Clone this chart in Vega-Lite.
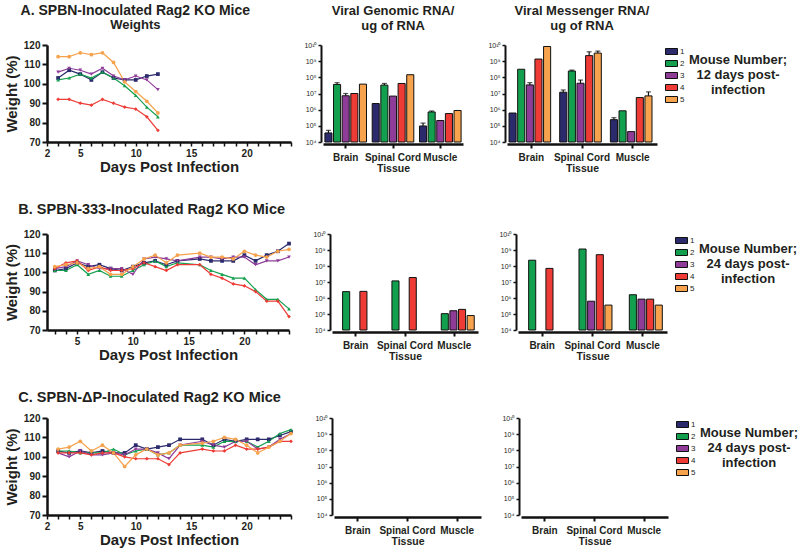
{
  "$schema": "https://vega.github.io/schema/vega-lite/v6.json",
  "padding": {"left": 4, "top": 4, "right": 2, "bottom": 2},
  "background": "white",
  "config": {
    "font": "Liberation Sans",
    "view": {"stroke": null},
    "axis": {"grid": false, "labelFont": "Liberation Sans", "titleFont": "Liberation Sans", "labelFontWeight": "bold", "titleFontWeight": "bold", "labelColor": "#231f20", "titleColor": "#231f20", "domainColor": "#111111", "tickColor": "#111111"},
    "title": {"font": "Liberation Sans", "fontWeight": "bold", "color": "#231f20", "subtitleFont": "Liberation Sans", "subtitleFontWeight": "bold", "subtitleColor": "#231f20"},
    "legend": {"labelFont": "Liberation Sans", "titleFont": "Liberation Sans", "labelColor": "#231f20", "titleColor": "#231f20"}
  },
  "datasets": {
    "weightsA": [
      {"day":3,"mouse":1,"w":103},{"day":4,"mouse":1,"w":107},{"day":5,"mouse":1,"w":105},{"day":6,"mouse":1,"w":102},{"day":7,"mouse":1,"w":106},{"day":8,"mouse":1,"w":103},{"day":9,"mouse":1,"w":102},{"day":10,"mouse":1,"w":102},{"day":11,"mouse":1,"w":104},{"day":12,"mouse":1,"w":105},
      {"day":3,"mouse":2,"w":102},{"day":4,"mouse":2,"w":103},{"day":5,"mouse":2,"w":105},{"day":6,"mouse":2,"w":103},{"day":7,"mouse":2,"w":106},{"day":8,"mouse":2,"w":103},{"day":9,"mouse":2,"w":99},{"day":10,"mouse":2,"w":94},{"day":11,"mouse":2,"w":88},{"day":12,"mouse":2,"w":83},
      {"day":3,"mouse":3,"w":106},{"day":4,"mouse":3,"w":108},{"day":5,"mouse":3,"w":107},{"day":6,"mouse":3,"w":105},{"day":7,"mouse":3,"w":108},{"day":8,"mouse":3,"w":104},{"day":9,"mouse":3,"w":102},{"day":10,"mouse":3,"w":104},{"day":11,"mouse":3,"w":102},{"day":12,"mouse":3,"w":97},
      {"day":3,"mouse":4,"w":92},{"day":4,"mouse":4,"w":92},{"day":5,"mouse":4,"w":90},{"day":6,"mouse":4,"w":89},{"day":7,"mouse":4,"w":92},{"day":8,"mouse":4,"w":90},{"day":9,"mouse":4,"w":88},{"day":10,"mouse":4,"w":87},{"day":11,"mouse":4,"w":83},{"day":12,"mouse":4,"w":76},
      {"day":3,"mouse":5,"w":114},{"day":4,"mouse":5,"w":114},{"day":5,"mouse":5,"w":116},{"day":6,"mouse":5,"w":115},{"day":7,"mouse":5,"w":116},{"day":8,"mouse":5,"w":111},{"day":9,"mouse":5,"w":101},{"day":10,"mouse":5,"w":96},{"day":11,"mouse":5,"w":91},{"day":12,"mouse":5,"w":85}
    ],
    "weightsB": [
      {"day":3,"mouse":1,"w":101},{"day":4,"mouse":1,"w":102},{"day":5,"mouse":1,"w":105},{"day":6,"mouse":1,"w":103},{"day":7,"mouse":1,"w":104},{"day":8,"mouse":1,"w":102},{"day":9,"mouse":1,"w":101},{"day":10,"mouse":1,"w":103},{"day":11,"mouse":1,"w":105},{"day":12,"mouse":1,"w":106},{"day":13,"mouse":1,"w":104},{"day":14,"mouse":1,"w":106},{"day":16,"mouse":1,"w":107},{"day":17,"mouse":1,"w":106},{"day":18,"mouse":1,"w":106},{"day":19,"mouse":1,"w":106},{"day":20,"mouse":1,"w":109},{"day":21,"mouse":1,"w":106},{"day":22,"mouse":1,"w":109},{"day":23,"mouse":1,"w":111},{"day":24,"mouse":1,"w":115},
      {"day":3,"mouse":2,"w":101},{"day":4,"mouse":2,"w":101},{"day":5,"mouse":2,"w":104},{"day":6,"mouse":2,"w":99},{"day":7,"mouse":2,"w":101},{"day":8,"mouse":2,"w":98},{"day":9,"mouse":2,"w":98},{"day":10,"mouse":2,"w":101},{"day":11,"mouse":2,"w":104},{"day":12,"mouse":2,"w":106},{"day":13,"mouse":2,"w":103},{"day":14,"mouse":2,"w":105},{"day":16,"mouse":2,"w":104},{"day":17,"mouse":2,"w":101},{"day":18,"mouse":2,"w":99},{"day":19,"mouse":2,"w":97},{"day":20,"mouse":2,"w":97},{"day":21,"mouse":2,"w":91},{"day":22,"mouse":2,"w":86},{"day":23,"mouse":2,"w":86},{"day":24,"mouse":2,"w":81},
      {"day":3,"mouse":3,"w":102},{"day":4,"mouse":3,"w":103},{"day":5,"mouse":3,"w":106},{"day":6,"mouse":3,"w":104},{"day":7,"mouse":3,"w":102},{"day":8,"mouse":3,"w":102},{"day":9,"mouse":3,"w":102},{"day":10,"mouse":3,"w":99},{"day":11,"mouse":3,"w":107},{"day":12,"mouse":3,"w":108},{"day":13,"mouse":3,"w":107},{"day":14,"mouse":3,"w":106},{"day":16,"mouse":3,"w":108},{"day":17,"mouse":3,"w":108},{"day":18,"mouse":3,"w":107},{"day":19,"mouse":3,"w":108},{"day":20,"mouse":3,"w":108},{"day":21,"mouse":3,"w":104},{"day":22,"mouse":3,"w":106},{"day":23,"mouse":3,"w":106},{"day":24,"mouse":3,"w":108},
      {"day":3,"mouse":4,"w":102},{"day":4,"mouse":4,"w":105},{"day":5,"mouse":4,"w":106},{"day":6,"mouse":4,"w":101},{"day":7,"mouse":4,"w":103},{"day":8,"mouse":4,"w":101},{"day":9,"mouse":4,"w":101},{"day":10,"mouse":4,"w":102},{"day":11,"mouse":4,"w":105},{"day":12,"mouse":4,"w":103},{"day":13,"mouse":4,"w":101},{"day":14,"mouse":4,"w":104},{"day":16,"mouse":4,"w":104},{"day":17,"mouse":4,"w":99},{"day":18,"mouse":4,"w":97},{"day":19,"mouse":4,"w":94},{"day":20,"mouse":4,"w":93},{"day":21,"mouse":4,"w":90},{"day":22,"mouse":4,"w":85},{"day":23,"mouse":4,"w":85},{"day":24,"mouse":4,"w":77},
      {"day":3,"mouse":5,"w":103},{"day":4,"mouse":5,"w":104},{"day":5,"mouse":5,"w":105},{"day":6,"mouse":5,"w":102},{"day":7,"mouse":5,"w":103},{"day":8,"mouse":5,"w":99},{"day":9,"mouse":5,"w":99},{"day":10,"mouse":5,"w":103},{"day":11,"mouse":5,"w":107},{"day":12,"mouse":5,"w":109},{"day":13,"mouse":5,"w":105},{"day":14,"mouse":5,"w":109},{"day":16,"mouse":5,"w":110},{"day":17,"mouse":5,"w":108},{"day":18,"mouse":5,"w":108},{"day":19,"mouse":5,"w":107},{"day":20,"mouse":5,"w":111},{"day":21,"mouse":5,"w":109},{"day":22,"mouse":5,"w":108},{"day":23,"mouse":5,"w":111},{"day":24,"mouse":5,"w":112}
    ],
    "weightsC": [
      {"day":3,"mouse":1,"w":103},{"day":4,"mouse":1,"w":102},{"day":5,"mouse":1,"w":103},{"day":6,"mouse":1,"w":102},{"day":7,"mouse":1,"w":103},{"day":8,"mouse":1,"w":102},{"day":9,"mouse":1,"w":102},{"day":10,"mouse":1,"w":106},{"day":11,"mouse":1,"w":104},{"day":12,"mouse":1,"w":105},{"day":13,"mouse":1,"w":106},{"day":14,"mouse":1,"w":109},{"day":16,"mouse":1,"w":109},{"day":17,"mouse":1,"w":106},{"day":18,"mouse":1,"w":109},{"day":19,"mouse":1,"w":108},{"day":20,"mouse":1,"w":109},{"day":21,"mouse":1,"w":109},{"day":22,"mouse":1,"w":109},{"day":23,"mouse":1,"w":111},{"day":24,"mouse":1,"w":113},
      {"day":3,"mouse":2,"w":103},{"day":4,"mouse":2,"w":103},{"day":5,"mouse":2,"w":102},{"day":6,"mouse":2,"w":102},{"day":7,"mouse":2,"w":102},{"day":8,"mouse":2,"w":104},{"day":9,"mouse":2,"w":101},{"day":10,"mouse":2,"w":103},{"day":11,"mouse":2,"w":104},{"day":12,"mouse":2,"w":101},{"day":13,"mouse":2,"w":102},{"day":14,"mouse":2,"w":106},{"day":16,"mouse":2,"w":106},{"day":17,"mouse":2,"w":105},{"day":18,"mouse":2,"w":108},{"day":19,"mouse":2,"w":108},{"day":20,"mouse":2,"w":108},{"day":21,"mouse":2,"w":105},{"day":22,"mouse":2,"w":108},{"day":23,"mouse":2,"w":112},{"day":24,"mouse":2,"w":114},
      {"day":3,"mouse":3,"w":102},{"day":4,"mouse":3,"w":100},{"day":5,"mouse":3,"w":103},{"day":6,"mouse":3,"w":101},{"day":7,"mouse":3,"w":101},{"day":8,"mouse":3,"w":102},{"day":9,"mouse":3,"w":101},{"day":10,"mouse":3,"w":104},{"day":11,"mouse":3,"w":104},{"day":12,"mouse":3,"w":102},{"day":13,"mouse":3,"w":99},{"day":14,"mouse":3,"w":106},{"day":16,"mouse":3,"w":108},{"day":17,"mouse":3,"w":106},{"day":18,"mouse":3,"w":105},{"day":19,"mouse":3,"w":108},{"day":20,"mouse":3,"w":108},{"day":21,"mouse":3,"w":104},{"day":22,"mouse":3,"w":105},{"day":23,"mouse":3,"w":109},{"day":24,"mouse":3,"w":112},
      {"day":3,"mouse":4,"w":102},{"day":4,"mouse":4,"w":102},{"day":5,"mouse":4,"w":102},{"day":6,"mouse":4,"w":101},{"day":7,"mouse":4,"w":102},{"day":8,"mouse":4,"w":102},{"day":9,"mouse":4,"w":100},{"day":10,"mouse":4,"w":99},{"day":11,"mouse":4,"w":99},{"day":12,"mouse":4,"w":99},{"day":13,"mouse":4,"w":96},{"day":14,"mouse":4,"w":102},{"day":16,"mouse":4,"w":104},{"day":17,"mouse":4,"w":103},{"day":18,"mouse":4,"w":103},{"day":19,"mouse":4,"w":106},{"day":20,"mouse":4,"w":104},{"day":21,"mouse":4,"w":104},{"day":22,"mouse":4,"w":105},{"day":23,"mouse":4,"w":108},{"day":24,"mouse":4,"w":108},
      {"day":3,"mouse":5,"w":104},{"day":4,"mouse":5,"w":105},{"day":5,"mouse":5,"w":108},{"day":6,"mouse":5,"w":103},{"day":7,"mouse":5,"w":106},{"day":8,"mouse":5,"w":102},{"day":9,"mouse":5,"w":95},{"day":10,"mouse":5,"w":101},{"day":11,"mouse":5,"w":104},{"day":12,"mouse":5,"w":101},{"day":13,"mouse":5,"w":102},{"day":14,"mouse":5,"w":106},{"day":16,"mouse":5,"w":107},{"day":17,"mouse":5,"w":108},{"day":18,"mouse":5,"w":110},{"day":19,"mouse":5,"w":109},{"day":20,"mouse":5,"w":106},{"day":21,"mouse":5,"w":102},{"day":22,"mouse":5,"w":105},{"day":23,"mouse":5,"w":108},{"day":24,"mouse":5,"w":112}
    ],
    "genA": [
      {"tissue":"Brain","mouse":1,"value":36300,"hi":52500},{"tissue":"Brain","mouse":2,"value":36300000,"hi":46800000},{"tissue":"Brain","mouse":3,"value":7240000,"hi":10000000},{"tissue":"Brain","mouse":4,"value":10000000,"hi":null},{"tissue":"Brain","mouse":5,"value":38000000,"hi":null},
      {"tissue":"Spinal Cord","mouse":1,"value":2400000,"hi":null},{"tissue":"Spinal Cord","mouse":2,"value":33100000,"hi":41700000},{"tissue":"Spinal Cord","mouse":3,"value":6900000,"hi":null},{"tissue":"Spinal Cord","mouse":4,"value":41700000,"hi":null},{"tissue":"Spinal Cord","mouse":5,"value":145000000,"hi":null},
      {"tissue":"Muscle","mouse":1,"value":98000,"hi":148000},{"tissue":"Muscle","mouse":2,"value":720000,"hi":830000},{"tissue":"Muscle","mouse":3,"value":214000,"hi":null},{"tissue":"Muscle","mouse":4,"value":575000,"hi":null},{"tissue":"Muscle","mouse":5,"value":890000,"hi":null}
    ],
    "msgA": [
      {"tissue":"Brain","mouse":1,"value":620000,"hi":null},{"tissue":"Brain","mouse":2,"value":316000000,"hi":null},{"tissue":"Brain","mouse":3,"value":34000000,"hi":47000000},{"tissue":"Brain","mouse":4,"value":1350000000,"hi":null},{"tissue":"Brain","mouse":5,"value":8100000000,"hi":null},
      {"tissue":"Spinal Cord","mouse":1,"value":12000000,"hi":16600000},{"tissue":"Spinal Cord","mouse":2,"value":245000000,"hi":280000000},{"tissue":"Spinal Cord","mouse":3,"value":43000000,"hi":68000000},{"tissue":"Spinal Cord","mouse":4,"value":2200000000,"hi":3800000000},{"tissue":"Spinal Cord","mouse":5,"value":3160000000,"hi":4200000000},
      {"tissue":"Muscle","mouse":1,"value":240000,"hi":320000},{"tissue":"Muscle","mouse":2,"value":850000,"hi":null},{"tissue":"Muscle","mouse":3,"value":44000,"hi":null},{"tissue":"Muscle","mouse":4,"value":5600000,"hi":null},{"tissue":"Muscle","mouse":5,"value":7100000,"hi":12600000}
    ],
    "genB": [
      {"tissue":"Brain","mouse":2,"value":2500000,"hi":null},{"tissue":"Brain","mouse":4,"value":2600000,"hi":null},
      {"tissue":"Spinal Cord","mouse":2,"value":11700000,"hi":null},{"tissue":"Spinal Cord","mouse":4,"value":19000000,"hi":null},
      {"tissue":"Muscle","mouse":2,"value":105000,"hi":null},{"tissue":"Muscle","mouse":3,"value":160000,"hi":null},{"tissue":"Muscle","mouse":4,"value":195000,"hi":null},{"tissue":"Muscle","mouse":5,"value":80000,"hi":null}
    ],
    "msgB": [
      {"tissue":"Brain","mouse":2,"value":230000000,"hi":null},{"tissue":"Brain","mouse":4,"value":71000000,"hi":null},
      {"tissue":"Spinal Cord","mouse":2,"value":1150000000,"hi":null},{"tissue":"Spinal Cord","mouse":3,"value":630000,"hi":null},{"tissue":"Spinal Cord","mouse":4,"value":510000000,"hi":null},{"tissue":"Spinal Cord","mouse":5,"value":360000,"hi":null},
      {"tissue":"Muscle","mouse":2,"value":1600000,"hi":null},{"tissue":"Muscle","mouse":3,"value":850000,"hi":null},{"tissue":"Muscle","mouse":4,"value":850000,"hi":null},{"tissue":"Muscle","mouse":5,"value":360000,"hi":null}
    ],
    "genC": [],
    "msgC": []
  },
  "resolve": {"scale": {"color": "independent", "shape": "independent"}},
  "spacing": 27,
  "vconcat": [
    {
      "resolve": {"scale": {"color": "independent", "shape": "independent"}},
      "spacing": 9,
      "hconcat": [
        {
          "width": 244, "height": 97,
          "data": {"name": "weightsA"},
          "title": {"text": "A.  SPBN-Inoculated Rag2 KO Mice", "subtitle": "Weights", "anchor": "start", "align": "center", "dx": 131, "fontSize": 14, "subtitleFontSize": 13, "subtitlePadding": 1, "offset": 8},
          "encoding": {
            "x": {"field": "day", "type": "quantitative", "scale": {"domain": [2, 24], "nice": false, "zero": false},
              "axis": {"title": "Days Post Infection", "values": [2,3,4,5,6,7,8,9,10,11,12,13,14,15,16,17,18,19,20,21,22,23,24], "labelExpr": "indexof([2,5,10,15,20], datum.value) >= 0 ? datum.label : ''", "labelOverlap": false, "labelFlush": false, "titleFontSize": 15, "labelFontSize": 10, "tickSize": 4, "tickWidth": 1.5, "domainWidth": 2.5, "titlePadding": 1}},
            "y": {"field": "w", "type": "quantitative", "scale": {"domain": [70, 120], "nice": false, "zero": false},
              "axis": {"title": "Weight (%)", "values": [70,80,90,100,110,120], "titleFontSize": 15, "labelFontSize": 10, "tickSize": 5, "tickWidth": 2, "domainWidth": 2.5, "titlePadding": 4}},
            "color": {"field": "mouse", "type": "nominal", "scale": {"domain": [1,2,3,4,5], "range": ["#2b2a6c", "#13a04e", "#8e3c98", "#ee3b36", "#f7a24c"]}, "legend": null}
          },
          "layer": [
            {"mark": {"type": "line", "strokeWidth": 1.2}},
            {"mark": {"type": "point", "filled": true, "size": 14, "opacity": 1},
              "encoding": {"shape": {"field": "mouse", "type": "nominal", "scale": {"domain": [1,2,3,4,5], "range": ["square", "triangle-up", "triangle-down", "diamond", "circle"]}, "legend": null}}}
          ]
        },
        {
          "width": 140, "height": 97,
          "title": {"text": ["Viral Genomic RNA/", "ug of RNA"], "fontSize": 13, "lineHeight": 15, "offset": 8},
          "data": {"name": "genA"},
          "encoding": {
            "x": {"field": "tissue", "type": "nominal", "scale": {"domain": ["Brain", "Spinal Cord", "Muscle"], "paddingInner": 0.12, "paddingOuter": 0.04},
              "axis": {"title": "Tissue", "offset": 2, "labelAngle": 0, "labelFontSize": 10, "titleFontSize": 10.5, "titlePadding": 1, "labelPadding": 4, "domainWidth": 2.5, "tickWidth": 2, "tickSize": 4}},
            "xOffset": {"field": "mouse", "type": "nominal", "scale": {"domain": [1,2,3,4,5], "paddingInner": 0.18}}
          },
          "layer": [
            {"mark": {"type": "bar", "stroke": "#111111", "strokeWidth": 1},
              "encoding": {
                "y": {"field": "value", "type": "quantitative", "scale": {"type": "log", "domain": [10000, 10000000000]},
                  "axis": {"title": null, "offset": 2, "minExtent": 20, "values": [10000,100000,1000000,10000000,100000000,1000000000,10000000000], "labelExpr": "'10' + ['⁴','⁵','⁶','⁷','⁸','⁹','¹⁰'][round(log(datum.value)/LN10)-4]", "labelFontSize": 7, "labelFontWeight": "normal", "labelPadding": 2, "domainWidth": 2, "tickWidth": 1.5, "tickSize": 3}},
                "y2": {"datum": 10000},
                "color": {"field": "mouse", "type": "nominal", "scale": {"domain": [1,2,3,4,5], "range": ["#2b2a6c", "#13a04e", "#8e3c98", "#ee3b36", "#f7a24c"]}, "legend": null}
              }},
            {"transform": [{"filter": "datum.hi != null"}], "mark": {"type": "rule", "color": "#111111", "strokeWidth": 1.2},
              "encoding": {"y": {"field": "value", "type": "quantitative"}, "y2": {"field": "hi"}}},
            {"transform": [{"filter": "datum.hi != null"}], "mark": {"type": "tick", "color": "#111111", "thickness": 1.2, "size": 5},
              "encoding": {"y": {"field": "hi", "type": "quantitative"}}}
          ]
        },
        {
          "width": 150, "height": 97,
          "title": {"text": ["Viral Messenger RNA/", "ug of RNA"], "fontSize": 13, "lineHeight": 15, "offset": 8},
          "data": {"name": "msgA"},
          "encoding": {
            "x": {"field": "tissue", "type": "nominal", "scale": {"domain": ["Brain", "Spinal Cord", "Muscle"], "paddingInner": 0.12, "paddingOuter": 0.04},
              "axis": {"title": "Tissue", "offset": 2, "labelAngle": 0, "labelFontSize": 10, "titleFontSize": 10.5, "titlePadding": 1, "labelPadding": 4, "domainWidth": 2.5, "tickWidth": 2, "tickSize": 4}},
            "xOffset": {"field": "mouse", "type": "nominal", "scale": {"domain": [1,2,3,4,5], "paddingInner": 0.18}}
          },
          "layer": [
            {"mark": {"type": "bar", "stroke": "#111111", "strokeWidth": 1},
              "encoding": {
                "y": {"field": "value", "type": "quantitative", "scale": {"type": "log", "domain": [10000, 10000000000]},
                  "axis": {"title": null, "offset": 2, "minExtent": 33, "values": [10000,100000,1000000,10000000,100000000,1000000000,10000000000], "labelExpr": "'10' + ['⁴','⁵','⁶','⁷','⁸','⁹','¹⁰'][round(log(datum.value)/LN10)-4]", "labelFontSize": 7, "labelFontWeight": "normal", "labelPadding": 2, "domainWidth": 2, "tickWidth": 1.5, "tickSize": 3}},
                "y2": {"datum": 10000},
                "color": {"field": "mouse", "type": "nominal", "scale": {"domain": [1,2,3,4,5], "range": ["#2b2a6c", "#13a04e", "#8e3c98", "#ee3b36", "#f7a24c"]},
                  "legend": {"title": ["Mouse Number;", "12 days post-", "infection"], "titleOrient": "right", "titleAnchor": "middle", "titleAlign": "center", "titleFontSize": 13, "titleFontWeight": "bold", "titleLineHeight": 15, "titlePadding": 54, "symbolType": "M-1,-0.5H1V0.5H-1Z", "symbolSize": 144, "symbolStrokeColor": "#111111", "symbolStrokeWidth": 1, "symbolOpacity": 1, "labelFontSize": 8, "labelOffset": 2, "rowPadding": 0, "offset": 8, "padding": 0}}
              }},
            {"transform": [{"filter": "datum.hi != null"}], "mark": {"type": "rule", "color": "#111111", "strokeWidth": 1.2},
              "encoding": {"y": {"field": "value", "type": "quantitative"}, "y2": {"field": "hi"}}},
            {"transform": [{"filter": "datum.hi != null"}], "mark": {"type": "tick", "color": "#111111", "thickness": 1.2, "size": 5},
              "encoding": {"y": {"field": "hi", "type": "quantitative"}}}
          ]
        }
      ]
    },
    {
      "title": {"text": "B.  SPBN-333-Inoculated Rag2 KO Mice", "anchor": "start", "fontSize": 14.5, "dx": 14, "offset": 12},
      "resolve": {"scale": {"color": "independent", "shape": "independent"}},
      "spacing": 18,
      "hconcat": [
        {
          "width": 242, "height": 96,
          "data": {"name": "weightsB"},
          "encoding": {
            "x": {"field": "day", "type": "quantitative", "scale": {"domain": [2.3, 24], "nice": false, "zero": false},
              "axis": {"title": "Days Post Infection", "values": [3,4,5,6,7,8,9,10,11,12,13,14,15,16,17,18,19,20,21,22,23,24], "labelExpr": "indexof([5,10,15,20], datum.value) >= 0 ? datum.label : ''", "labelOverlap": false, "labelFlush": false, "titleFontSize": 15, "labelFontSize": 10, "tickSize": 4, "tickWidth": 1.5, "domainWidth": 2.5, "titlePadding": 1}},
            "y": {"field": "w", "type": "quantitative", "scale": {"domain": [70, 120], "nice": false, "zero": false},
              "axis": {"title": "Weight (%)", "values": [70,80,90,100,110,120], "titleFontSize": 15, "labelFontSize": 10, "tickSize": 5, "tickWidth": 2, "domainWidth": 2.5, "titlePadding": 4}},
            "color": {"field": "mouse", "type": "nominal", "scale": {"domain": [1,2,3,4,5], "range": ["#2b2a6c", "#13a04e", "#8e3c98", "#ee3b36", "#f7a24c"]}, "legend": null}
          },
          "layer": [
            {"mark": {"type": "line", "strokeWidth": 1.2}},
            {"mark": {"type": "point", "filled": true, "size": 14, "opacity": 1},
              "encoding": {"shape": {"field": "mouse", "type": "nominal", "scale": {"domain": [1,2,3,4,5], "range": ["square", "triangle-up", "triangle-down", "diamond", "circle"]}, "legend": null}}}
          ]
        },
        {
          "width": 146, "height": 96,
          "data": {"name": "genB"},
          "mark": {"type": "bar", "stroke": "#111111", "strokeWidth": 1},
          "encoding": {
            "x": {"field": "tissue", "type": "nominal", "scale": {"domain": ["Brain", "Spinal Cord", "Muscle"], "paddingInner": 0.12, "paddingOuter": 0.04},
              "axis": {"title": "Tissue", "offset": 2, "labelAngle": 0, "labelFontSize": 10, "titleFontSize": 10.5, "titlePadding": 1, "labelPadding": 4, "domainWidth": 2.5, "tickWidth": 2, "tickSize": 4}},
            "xOffset": {"field": "mouse", "type": "nominal", "scale": {"domain": [1,2,3,4,5], "paddingInner": 0.18}},
            "y": {"field": "value", "type": "quantitative", "scale": {"type": "log", "domain": [10000, 10000000000]},
              "axis": {"title": null, "offset": 2, "minExtent": 20, "values": [10000,100000,1000000,10000000,100000000,1000000000,10000000000], "labelExpr": "'10' + ['⁴','⁵','⁶','⁷','⁸','⁹','¹⁰'][round(log(datum.value)/LN10)-4]", "labelFontSize": 7, "labelFontWeight": "normal", "labelPadding": 2, "domainWidth": 2, "tickWidth": 1.5, "tickSize": 3}},
            "y2": {"datum": 10000},
            "color": {"field": "mouse", "type": "nominal", "scale": {"domain": [1,2,3,4,5], "range": ["#2b2a6c", "#13a04e", "#8e3c98", "#ee3b36", "#f7a24c"]}, "legend": null}
          }
        },
        {
          "width": 149, "height": 96,
          "data": {"name": "msgB"},
          "mark": {"type": "bar", "stroke": "#111111", "strokeWidth": 1},
          "encoding": {
            "x": {"field": "tissue", "type": "nominal", "scale": {"domain": ["Brain", "Spinal Cord", "Muscle"], "paddingInner": 0.12, "paddingOuter": 0.04},
              "axis": {"title": "Tissue", "offset": 2, "labelAngle": 0, "labelFontSize": 10, "titleFontSize": 10.5, "titlePadding": 1, "labelPadding": 4, "domainWidth": 2.5, "tickWidth": 2, "tickSize": 4}},
            "xOffset": {"field": "mouse", "type": "nominal", "scale": {"domain": [1,2,3,4,5], "paddingInner": 0.18}},
            "y": {"field": "value", "type": "quantitative", "scale": {"type": "log", "domain": [10000, 10000000000]},
              "axis": {"title": null, "offset": 2, "minExtent": 20, "values": [10000,100000,1000000,10000000,100000000,1000000000,10000000000], "labelExpr": "'10' + ['⁴','⁵','⁶','⁷','⁸','⁹','¹⁰'][round(log(datum.value)/LN10)-4]", "labelFontSize": 7, "labelFontWeight": "normal", "labelPadding": 2, "domainWidth": 2, "tickWidth": 1.5, "tickSize": 3}},
            "y2": {"datum": 10000},
            "color": {"field": "mouse", "type": "nominal", "scale": {"domain": [1,2,3,4,5], "range": ["#2b2a6c", "#13a04e", "#8e3c98", "#ee3b36", "#f7a24c"]},
              "legend": {"title": ["Mouse Number;", "24 days post-", "infection"], "titleOrient": "right", "titleAnchor": "middle", "titleAlign": "center", "titleFontSize": 13, "titleFontWeight": "bold", "titleLineHeight": 15, "titlePadding": 54, "symbolType": "M-1,-0.5H1V0.5H-1Z", "symbolSize": 144, "symbolStrokeColor": "#111111", "symbolStrokeWidth": 1, "symbolOpacity": 1, "labelFontSize": 8, "labelOffset": 2, "rowPadding": 0, "offset": 8, "padding": 0}}
          }
        }
      ]
    },
    {
      "title": {"text": "C.  SPBN-ΔP-Inoculated Rag2 KO Mice", "anchor": "start", "fontSize": 14.5, "dx": 14, "offset": 8},
      "resolve": {"scale": {"color": "independent", "shape": "independent"}},
      "spacing": 18,
      "hconcat": [
        {
          "width": 244, "height": 97,
          "data": {"name": "weightsC"},
          "encoding": {
            "x": {"field": "day", "type": "quantitative", "scale": {"domain": [2, 24], "nice": false, "zero": false},
              "axis": {"title": "Days Post Infection", "values": [2,3,4,5,6,7,8,9,10,11,12,13,14,15,16,17,18,19,20,21,22,23,24], "labelExpr": "indexof([2,5,10,15,20], datum.value) >= 0 ? datum.label : ''", "labelOverlap": false, "labelFlush": false, "titleFontSize": 15, "labelFontSize": 10, "tickSize": 4, "tickWidth": 1.5, "domainWidth": 2.5, "titlePadding": 1}},
            "y": {"field": "w", "type": "quantitative", "scale": {"domain": [70, 120], "nice": false, "zero": false},
              "axis": {"title": "Weight (%)", "values": [70,80,90,100,110,120], "titleFontSize": 15, "labelFontSize": 10, "tickSize": 5, "tickWidth": 2, "domainWidth": 2.5, "titlePadding": 4}},
            "color": {"field": "mouse", "type": "nominal", "scale": {"domain": [1,2,3,4,5], "range": ["#2b2a6c", "#13a04e", "#8e3c98", "#ee3b36", "#f7a24c"]}, "legend": null}
          },
          "layer": [
            {"mark": {"type": "line", "strokeWidth": 1.2}},
            {"mark": {"type": "point", "filled": true, "size": 14, "opacity": 1},
              "encoding": {"shape": {"field": "mouse", "type": "nominal", "scale": {"domain": [1,2,3,4,5], "range": ["square", "triangle-up", "triangle-down", "diamond", "circle"]}, "legend": null}}}
          ]
        },
        {
          "width": 147, "height": 97,
          "data": {"name": "genC"},
          "mark": {"type": "bar", "stroke": "#111111", "strokeWidth": 1},
          "encoding": {
            "x": {"field": "tissue", "type": "nominal", "scale": {"domain": ["Brain", "Spinal Cord", "Muscle"], "paddingInner": 0.12, "paddingOuter": 0.04},
              "axis": {"title": "Tissue", "offset": 2, "labelAngle": 0, "labelFontSize": 10, "titleFontSize": 10.5, "titlePadding": 1, "labelPadding": 4, "domainWidth": 2.5, "tickWidth": 2, "tickSize": 4}},
            "xOffset": {"field": "mouse", "type": "nominal", "scale": {"domain": [1,2,3,4,5], "paddingInner": 0.18}},
            "y": {"field": "value", "type": "quantitative", "scale": {"type": "log", "domain": [10000, 10000000000]},
              "axis": {"title": null, "offset": 2, "minExtent": 20, "values": [10000,100000,1000000,10000000,100000000,1000000000,10000000000], "labelExpr": "'10' + ['⁴','⁵','⁶','⁷','⁸','⁹','¹⁰'][round(log(datum.value)/LN10)-4]", "labelFontSize": 7, "labelFontWeight": "normal", "labelPadding": 2, "domainWidth": 2, "tickWidth": 1.5, "tickSize": 3}},
            "y2": {"datum": 10000},
            "color": {"field": "mouse", "type": "nominal", "scale": {"domain": [1,2,3,4,5], "range": ["#2b2a6c", "#13a04e", "#8e3c98", "#ee3b36", "#f7a24c"]}, "legend": null}
          }
        },
        {
          "width": 147, "height": 97,
          "data": {"name": "msgC"},
          "mark": {"type": "bar", "stroke": "#111111", "strokeWidth": 1},
          "encoding": {
            "x": {"field": "tissue", "type": "nominal", "scale": {"domain": ["Brain", "Spinal Cord", "Muscle"], "paddingInner": 0.12, "paddingOuter": 0.04},
              "axis": {"title": "Tissue", "offset": 2, "labelAngle": 0, "labelFontSize": 10, "titleFontSize": 10.5, "titlePadding": 1, "labelPadding": 4, "domainWidth": 2.5, "tickWidth": 2, "tickSize": 4}},
            "xOffset": {"field": "mouse", "type": "nominal", "scale": {"domain": [1,2,3,4,5], "paddingInner": 0.18}},
            "y": {"field": "value", "type": "quantitative", "scale": {"type": "log", "domain": [10000, 10000000000]},
              "axis": {"title": null, "offset": 2, "minExtent": 20, "values": [10000,100000,1000000,10000000,100000000,1000000000,10000000000], "labelExpr": "'10' + ['⁴','⁵','⁶','⁷','⁸','⁹','¹⁰'][round(log(datum.value)/LN10)-4]", "labelFontSize": 7, "labelFontWeight": "normal", "labelPadding": 2, "domainWidth": 2, "tickWidth": 1.5, "tickSize": 3}},
            "y2": {"datum": 10000},
            "color": {"field": "mouse", "type": "nominal", "scale": {"domain": [1,2,3,4,5], "range": ["#2b2a6c", "#13a04e", "#8e3c98", "#ee3b36", "#f7a24c"]},
              "legend": {"title": ["Mouse Number;", "24 days post-", "infection"], "titleOrient": "right", "titleAnchor": "middle", "titleAlign": "center", "titleFontSize": 13, "titleFontWeight": "bold", "titleLineHeight": 15, "titlePadding": 54, "symbolType": "M-1,-0.5H1V0.5H-1Z", "symbolSize": 144, "symbolStrokeColor": "#111111", "symbolStrokeWidth": 1, "symbolOpacity": 1, "labelFontSize": 8, "labelOffset": 2, "rowPadding": 0, "offset": 8, "padding": 0}}
          }
        }
      ]
    }
  ]
}
